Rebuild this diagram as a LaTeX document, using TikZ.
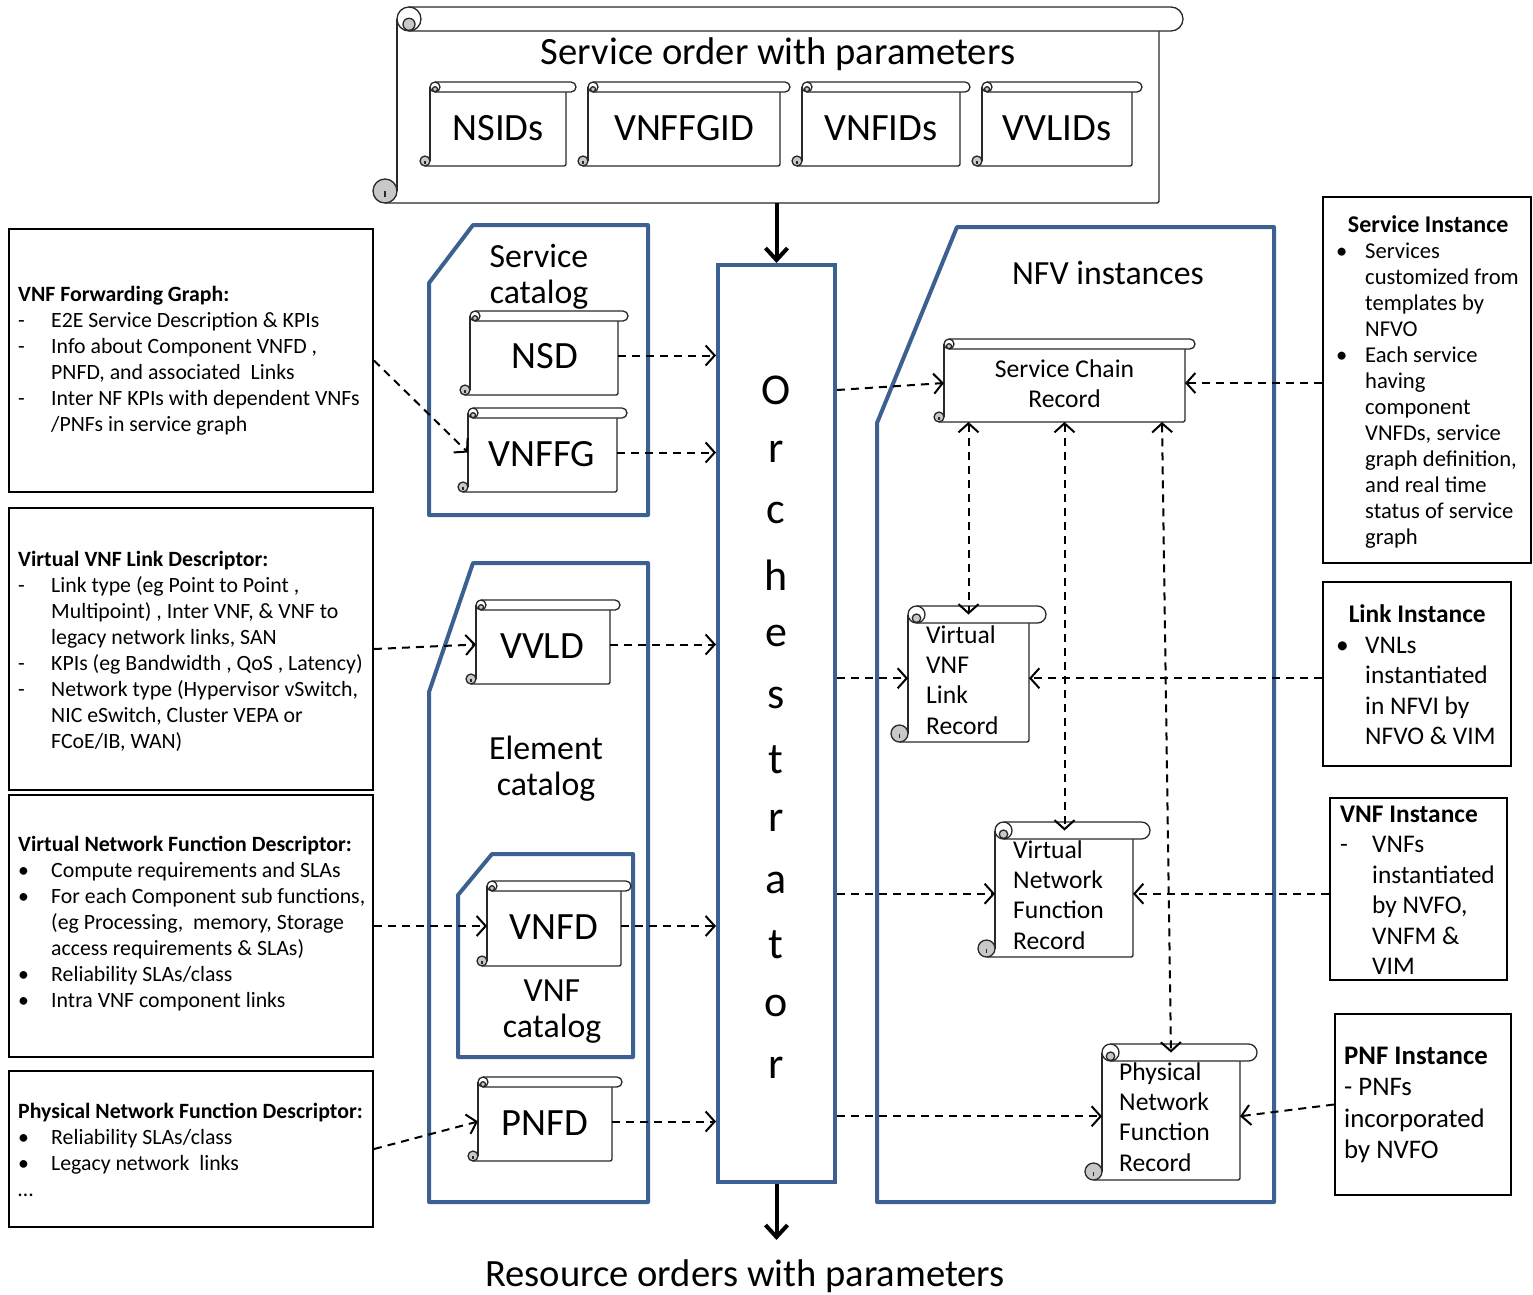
\documentclass[tikz,border=0pt]{standalone}
\usepackage{fontspec}
\setmainfont{Carlito}
\usetikzlibrary{arrows.meta,positioning,calc}
\definecolor{nfvBlue}{RGB}{60,96,145}
\definecolor{curlGray}{RGB}{200,200,200}
\definecolor{scrollLine}{RGB}{40,40,40}
\newcommand{\itemmark}[2][33pt]{\makebox[#1][l]{#2}}
\newcommand{\itemcont}[1][33pt]{\hspace*{#1}}
% scroll: name, left, top, right, bottom, roll size
\newcommand{\scrollshape}[6]{%
  \fill[white] ({#2+#6},{#3+#6/2}) rectangle ({#4-#6},{#5});
  \draw[scrollline] ({#2+#6},{#3+#6/2}) -- ({#2+#6},{#5-#6/2});
  \draw[scrollline,rounded corners=2pt] ({#2+#6/2},{#5}) -- ({#4-#6},{#5}) -- ({#4-#6},{#3+#6});
  \draw[scrollline,fill=white] ({#2+1.5*#6},{#3}) -- ({#4-#6/2},{#3})
    arc[start angle=-90,end angle=90,radius={#6/2}] -- ({#2+1.5*#6},{#3+#6});
  \draw[scrollline,fill=white] ({#2+1.5*#6},{#3+#6/2}) circle[radius={#6/2}];
  \draw[scrollline,fill=curlGray] ({#2+1.5*#6},{#3+0.72*#6}) circle[radius={#6/4}];
  \draw[scrollline,fill=curlGray] ({#2+#6/2},{#5-#6/2}) circle[radius={#6/2}];
  \draw[scrollline] ({#2+#6/2},{#5-#6/2}) -- ({#2+#6/2},{#5-#6/4});
  \node[scrollanchor,minimum width={#4-#2-2*#6},minimum height={#5-#3-#6/2}]
    (#1) at ({(#2+#4)/2},{(#3+#6/2+#5)/2}) {};
}
\tikzset{
  scrollline/.style={draw=scrollLine,line width=1.3pt},
  scrollanchor/.style={draw=none,rectangle,inner sep=0pt,outer sep=0pt},
  catline/.style={draw=nfvBlue,line width=4pt,line join=round},
  descbox/.style={draw,line width=2pt,rectangle,inner sep=0pt},
  desctext/.style={anchor=west,align=left,inner sep=0pt,
                   font=\fontsize{21.8pt}{26pt}\selectfont},
  insttext/.style={anchor=west,align=left,inner sep=0pt,
                   font=\fontsize{25.4pt}{30.5pt}\selectfont},
  idtext/.style={font=\fontsize{38.6pt}{44pt}\selectfont},
  cattext/.style={align=center,font=\fontsize{33.8pt}{36pt}\selectfont},
  recordtext/.style={align=left,inner sep=0pt,font=\fontsize{25.6pt}{30.3pt}\selectfont},
  orchletter/.style={font=\fontsize{44pt}{48pt}\selectfont},
  dashflow/.style={-{Straight Barb[length=9pt,width=20pt]},line width=2pt,
                   dash pattern=on 8pt off 6pt},
  dblflow/.style={{Straight Barb[length=9pt,width=20pt]}-{Straight Barb[length=9pt,width=20pt]},
                  line width=2pt,dash pattern=on 8pt off 6pt},
  bigflow/.style={-{Straight Barb[length=12pt,width=22pt]},line width=4pt},
}

\begin{document}
\begin{tikzpicture}[x=1pt,y=-1pt]
  \useasboundingbox (0,0) rectangle (1533,1294);
  % --- service order (top) ---
  \scrollshape{order}{373}{7}{1183}{203}{24}
  \node[idtext] (ordertitle) at (778,54) {Service order with parameters};
  \scrollshape{nsids}{420}{82}{576}{166}{10}
  \scrollshape{vnffgid}{578}{82}{790}{166}{10}
  \scrollshape{vnfids}{792}{82}{970}{166}{10}
  \scrollshape{vvlids}{972}{82}{1142}{166}{10}
  \node[idtext] (nsidstext) at (498,128) {NSIDs};
  \node[idtext] (vnffgidtext) at (684,128) {VNFFGID};
  \node[idtext] (vnfidstext) at (881,128) {VNFIDs};
  \node[idtext] (vvlidstext) at (1057,128) {VVLIDs};
  % --- catalogs (middle left) ---
  \draw[catline] (473,225) -- (648,225) -- (648,515) -- (429,515) -- (429,283) -- cycle;
  \draw[catline] (473,563) -- (648,563) -- (648,1202) -- (429,1202) -- (429,692) -- cycle;
  \draw[catline] (492,854) -- (633,854) -- (633,1057) -- (458,1057) -- (458,895) -- cycle;
  \node[cattext] (svccat) at (539,277) {Service\\catalog};
  \node[cattext] (elemcat) at (546,769) {Element\\catalog};
  \node[cattext] (vnfcat) at (552,1012) {VNF\\catalog};
  \scrollshape{nsd}{460}{311}{628}{395}{10}
  \scrollshape{vnffg}{458}{408}{627}{492}{10}
  \scrollshape{vvld}{466}{600}{620}{684}{10}
  \scrollshape{vnfd}{477}{881}{631}{966}{10}
  \scrollshape{pnfd}{468}{1077}{622}{1161}{10}
  \node[idtext] (nsdtext) at (545,356) {NSD};
  \node[idtext] (vnffgtext) at (542,454) {VNFFG};
  \node[idtext] (vvldtext) at (542,646) {VVLD};
  \node[idtext] (vnfdtext) at (554,927) {VNFD};
  \node[idtext] (pnfdtext) at (545,1123) {PNFD};
  % --- orchestrator ---
  \node[draw=nfvBlue,line width=4pt,minimum width=117,minimum height=917,inner sep=0pt]
    (orch) at (776.5,723.5) {};
  \foreach \ch [count=\i from 0] in {O,r,c,h,e,s,t,r,a,t,o,r}
    \node[orchletter] (orchl\i) at (776,{390+61.6*\i}) {\ch};
  % --- NFV instances (middle right) ---
  \draw[catline] (957,227) -- (1274,227) -- (1274,1202) -- (877,1202) -- (877,423) -- cycle;
  \node[cattext] (nfvinst) at (1108,273) {NFV instances};
  \scrollshape{scr}{934}{339}{1195}{422}{10}
  \scrollshape{vvlr}{891}{606}{1046}{742}{17}
  \scrollshape{vnfr}{978}{822}{1150}{957}{17}
  \scrollshape{pnfr}{1085}{1044}{1257}{1180}{17}
  \node[recordtext,align=center] (scrtext) at (1064.5,384) {Service Chain\\Record};
  \node[recordtext,anchor=west] (vvlrtext) at (926,680) {Virtual\\VNF\\Link\\Record};
  \node[recordtext,anchor=west] (vnfrtext) at (1013,895) {Virtual\\Network\\Function\\Record};
  \node[recordtext,anchor=west] (pnfrtext) at (1119,1117) {Physical\\Network\\Function\\Record};
  % --- descriptors (left) ---
  \node[descbox,minimum width=364,minimum height=263] (fgbox) at (191,360.5) {};
  \node[descbox,minimum width=364,minimum height=282] (vvldbox) at (191,649) {};
  \node[descbox,minimum width=364,minimum height=262] (vnfdbox) at (191,926) {};
  \node[descbox,minimum width=364,minimum height=156] (pnfdbox) at (191,1149) {};
  \node[desctext] (fgtext) at (18,361) {\textbf{VNF Forwarding Graph:}\\
    \itemmark{-}E2E Service Description \& KPIs\\
    \itemmark{-}Info about Component VNFD ,\\
    \itemcont PNFD, and associated\ \ Links\\
    \itemmark{-}Inter NF KPIs with dependent VNFs\\
    \itemcont /PNFs in service graph};
  \node[desctext] (vvldtext) at (18,651) {\textbf{Virtual VNF Link Descriptor:}\\
    \itemmark{-}Link type (eg Point to Point ,\\
    \itemcont Multipoint) , Inter VNF, \& VNF to\\
    \itemcont legacy network links, SAN\\
    \itemmark{-}KPIs (eg Bandwidth , QoS , Latency)\\
    \itemmark{-}Network type (Hypervisor vSwitch,\\
    \itemcont NIC eSwitch, Cluster VEPA or\\
    \itemcont FCoE/IB, WAN)};
  \node[desctext] (vnfdtext) at (18,924) {\textbf{Virtual Network Function Descriptor:}\\
    \itemmark{•}Compute requirements and SLAs\\
    \itemmark{•}For each Component sub functions,\\
    \itemcont (eg Processing,\ \ memory, Storage\\
    \itemcont access requirements \& SLAs)\\
    \itemmark{•}Reliability SLAs/class\\
    \itemmark{•}Intra VNF component links};
  \node[desctext] (pnfdtext) at (18,1150) {\textbf{Physical Network Function Descriptor:}\\
    \itemmark{•}Reliability SLAs/class\\
    \itemmark{•}Legacy network\ \ links\\
    …};
  % --- instances (right) ---
  \node[descbox,minimum width=208,minimum height=366] (sibox) at (1427,380) {};
  \node[descbox,minimum width=188,minimum height=184] (libox) at (1417,674) {};
  \node[descbox,minimum width=177,minimum height=182] (vibox) at (1418.5,889) {};
  \node[descbox,minimum width=176,minimum height=181] (pibox) at (1423,1104.5) {};
  \node[desctext,font=\fontsize{22.6pt}{26pt}\selectfont] (sitext) at (1336,382)
    {\makebox[184pt][c]{\fontsize{24pt}{26pt}\selectfont\textbf{Service Instance}}\\
    \itemmark[29pt]{•}Services\\
    \itemcont[29pt]customized from\\
    \itemcont[29pt]templates by\\
    \itemcont[29pt]NFVO\\
    \itemmark[29pt]{•}Each service\\
    \itemcont[29pt]having\\
    \itemcont[29pt]component\\
    \itemcont[29pt]VNFDs, service\\
    \itemcont[29pt]graph definition,\\
    \itemcont[29pt]and real time\\
    \itemcont[29pt]status of service\\
    \itemcont[29pt]graph};
  \node[insttext] (litext) at (1336,675) {\makebox[162pt][c]{\textbf{Link Instance}}\\
    \itemmark[29pt]{•}VNLs\\
    \itemcont[29pt]instantiated\\
    \itemcont[29pt]in NFVI by\\
    \itemcont[29pt]NFVO \& VIM};
  \node[insttext] (vitext) at (1340,890) {\textbf{VNF Instance}\\
    \itemmark[32pt]{-}VNFs\\
    \itemcont[32pt]instantiated\\
    \itemcont[32pt]by NVFO,\\
    \itemcont[32pt]VNFM \&\\
    \itemcont[32pt]VIM};
  \node[insttext,font=\fontsize{26.8pt}{31.5pt}\selectfont] (pitext) at (1344,1105)
    {\textbf{PNF Instance}\\- PNFs\\incorporated\\by NVFO};
  % --- resource orders (bottom) ---
  \node[idtext] (restext) at (745,1276) {Resource orders with parameters};
  \coordinate (resend) at ([yshift=16pt]restext.north);
  % --- connectors ---
  \draw[bigflow] (orch.north |- order.south) -- (orch.north);
  \draw[bigflow] (orch.south) -- (orch.south |- resend);
  \draw[dashflow] (fgbox.east) -- (vnffg.west);
  \draw[dashflow] (vvldbox.east) -- (vvld.west);
  \draw[dashflow] (vnfdbox.east) -- (vnfd.west);
  \draw[dashflow] (pnfdbox.east) -- (pnfd.west);
  \foreach \n in {nsd,vnffg,vvld,vnfd,pnfd} \draw[dashflow] (\n.east) -- (\n.east -| orch.west);
  \draw[dashflow] ([yshift=-7pt]scr.west -| orch.east) -- (scr.west);
  \foreach \n in {vvlr,vnfr,pnfr} \draw[dashflow] (\n.west -| orch.east) -- (\n.west);
  \draw[dashflow] (sibox.west |- scr.east) -- (scr.east);
  \draw[dashflow] (libox.west |- vvlr.east) -- (vvlr.east);
  \draw[dashflow] (vibox.west |- vnfr.east) -- (vnfr.east);
  \draw[dashflow] (pibox.west) -- (pnfr.east);
  \coordinate (pnfrtop) at ([xshift=-9pt]pnfr.north);
  \draw[dblflow] (vvlr.north |- scr.south) -- (vvlr.north);
  \draw[dblflow] (scr.south) -- (scr.south |- vnfr.north);
  \draw[dblflow] (pnfrtop |- scr.south) -- (pnfr.north);
\end{tikzpicture}
\end{document}
